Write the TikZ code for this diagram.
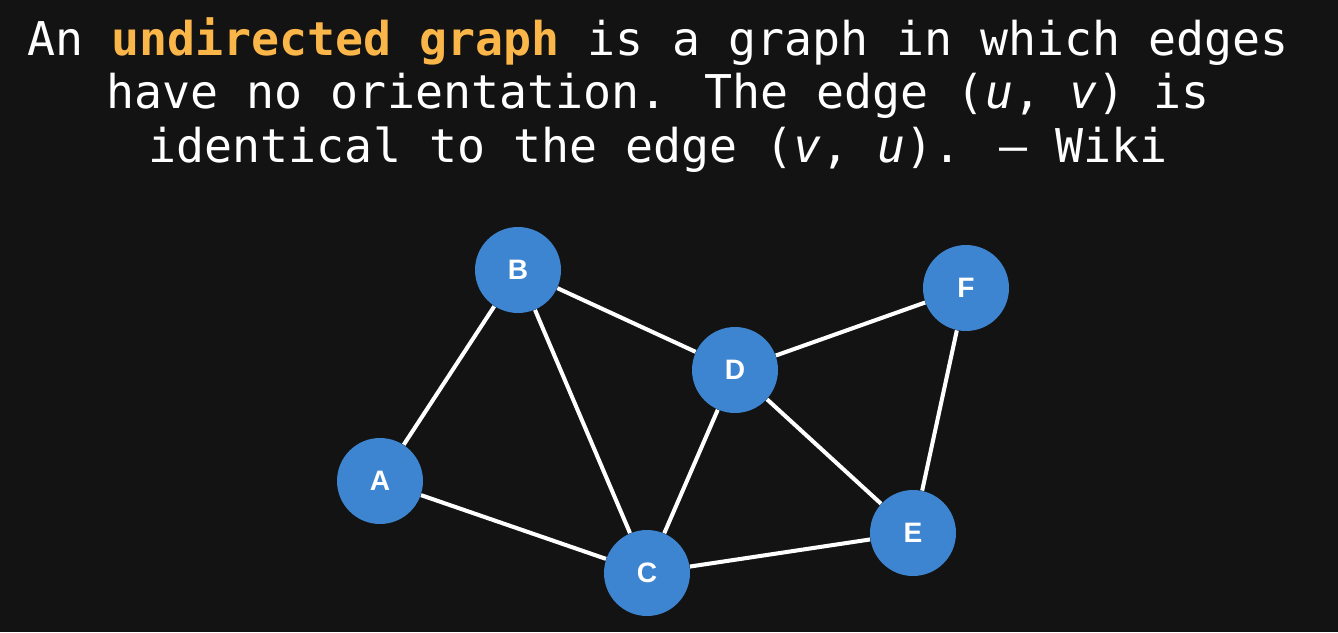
\documentclass[tikz,border=0pt]{standalone}
\usepackage{fontspec}
\usepackage{tikz}
\usetikzlibrary{backgrounds,positioning}
\newfontfamily\quotefont{DejaVu Sans Mono}
\newfontfamily\vertexfont{Liberation Sans}
\definecolor{slidebg}{RGB}{19,19,19}
\definecolor{vertexblue}{RGB}{61,133,209}
\definecolor{keyorange}{RGB}{250,182,72}

\begin{document}
\begin{tikzpicture}[x=0.02cm, y=-0.02cm, vertex/.style = {circle, fill=vertexblue, minimum size=1.72cm, inner sep=0pt, text=white, font=\vertexfont\bfseries\fontsize{16}{16}\selectfont}, edge/.style = {draw=white, line width=2.3pt}]
\node [text=white, align=center, inner sep=0pt, font=\quotefont\fontsize{26.5}{30.4}\selectfont] (quote) at (658,95)
  {An {\color{keyorange}\bfseries undirected graph} is a graph in which edges\\
   have no orientation. The edge ({\itshape u}, {\itshape v}) is\\
   identical to the edge ({\itshape v}, {\itshape u}). – Wiki};
\node [vertex] (A) at (380,481) {A};
\node [vertex] (B) at (518,270) {B};
\node [vertex] (C) at (647,573) {C};
\node [vertex] (D) at (735,370) {D};
\node [vertex] (E) at (913,533) {E};
\node [vertex] (F) at (966,288) {F};
\begin{scope}[on background layer]
\fill[slidebg] (0,0) rectangle (1338,632);
\draw [edge] (A) -- (B);
\draw [edge] (A) -- (C);
\draw [edge] (B) -- (C);
\draw [edge] (B) -- (D);
\draw [edge] (D) -- (C);
\draw [edge] (D) -- (F);
\draw [edge] (D) -- (E);
\draw [edge] (F) -- (E);
\draw [edge] (C) -- (E);
\end{scope}
\end{tikzpicture}
\end{document}
